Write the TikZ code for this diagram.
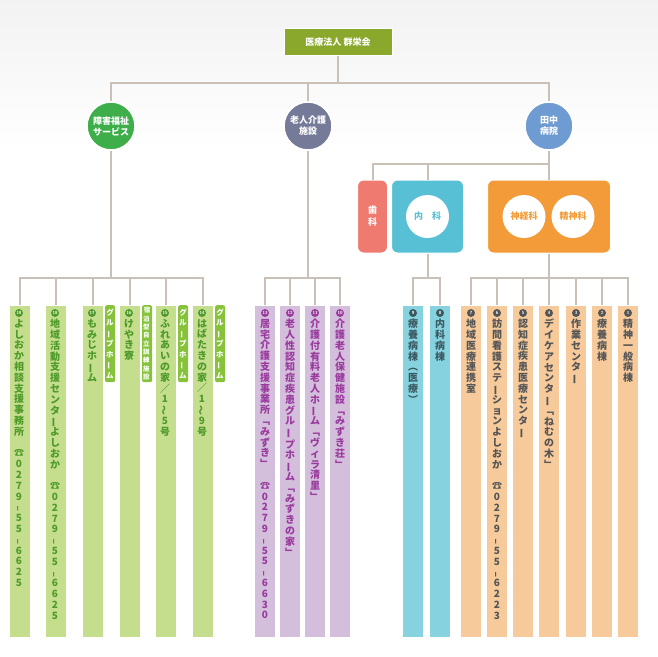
\documentclass[tikz,border=0pt]{standalone}
\usepackage{fontspec}
\usetikzlibrary{positioning,calc}
\newfontfamily\jp{Noto Sans CJK JP}
\definecolor{linec}{HTML}{C9C0B8}
\definecolor{topgreen}{HTML}{8AA92C}
\definecolor{gcol}{HTML}{C5DE8E}
\definecolor{gtext}{HTML}{4E9A2A}
\definecolor{gtab}{HTML}{86C23A}
\definecolor{pcol}{HTML}{D3BEDB}
\definecolor{ptext}{HTML}{9A3A9E}
\definecolor{bcol}{HTML}{87D2DF}
\definecolor{btext}{HTML}{3A5A62}
\definecolor{ocol}{HTML}{F7CA9B}
\definecolor{otext}{HTML}{555555}
\definecolor{shogaic}{HTML}{3DAE4A}
\definecolor{rojinc}{HTML}{747A98}
\definecolor{tanakac}{HTML}{6E9BD1}
\definecolor{shikac}{HTML}{EE7A70}
\definecolor{naikac}{HTML}{58C0D5}
\definecolor{seishinc}{HTML}{F29B38}
% vertical stacking of characters
\def\vt#1{\vtloop#1\relax}
\def\vtloop#1{\ifx\relax#1\else\hbox to 1em{\hss#1\hss}\par\expandafter\vtloop\fi}
\def\vtx#1{\expandafter\vt\expandafter{#1}}
\def\vgap{}
\def\vtilde{\rotatebox[origin=c]{90}{～}}
\def\vbar{\rotatebox[origin=c]{90}{ー}}
\def\vdash{\rotatebox[origin=c]{90}{–}}
\tikzset{
  conn/.style={draw=linec, line width=2pt},
  head/.style={circle, draw=white, line width=1.5pt, minimum width=48pt, minimum height=47pt, inner sep=0pt,
    text=white, font=\jp\bfseries\fontsize{9}{11}\selectfont, align=center},
  dept/.style={rectangle, rounded corners=6pt, draw=white, line width=1pt, minimum height=73pt, inner sep=0pt},
  inner/.style={circle, fill=white, minimum width=43pt, minimum height=43pt, inner sep=0pt, font=\jp\bfseries\fontsize{9}{11}\selectfont},
  col/.style={rectangle, draw=white, line width=0.8pt, minimum width=21pt, minimum height=332pt, anchor=north, inner sep=0pt},
  vtext/.style={anchor=north, inner sep=0pt, text width=10pt, align=center, font=\jp\bfseries\fontsize{10}{10.8}\selectfont},
  num/.style={circle, minimum size=8pt, inner sep=0pt, text=white, font=\sffamily\bfseries\fontsize{4.5}{5}\selectfont},
  tab/.style={rectangle, rounded corners=2pt, fill=gtab, minimum width=10pt, minimum height=77pt, anchor=north west, inner sep=0pt},
  tabtext/.style={inner sep=0pt, text width=8pt, align=center, text=white}
}
\begin{document}
\begin{tikzpicture}[x=1pt, y=-1pt]
\useasboundingbox (0,0) rectangle (658,656);
\shade[top color=gray!10, bottom color=white] (0,0) rectangle (658,150);
% Nodes
\node[rectangle, fill=topgreen, draw=white, line width=1pt, minimum width=108pt, minimum height=27pt,
  text=white, font=\jp\bfseries\fontsize{9}{11}\selectfont] (top) at (338,42) {医療法人 群栄会};
\node[head, fill=shogaic] (shogai) at (111,126) {障害福祉\\サービス};
\node[head, fill=rojinc] (rojin) at (308,126) {老人介護\\施設};
\node[head, fill=tanakac] (tanaka) at (549,126) {田中\\病院};
\node[dept, fill=shikac, minimum width=30pt, text=white, align=center,
  font=\jp\bfseries\fontsize{9}{12}\selectfont] (shika) at (372.5,216.5) {歯\\科};
\node[dept, fill=naikac, minimum width=72pt] (naika) at (427.5,216.5) {};
\node[inner, text=naikac] (naikain) at (427.5,216.5) {内\hspace{1em}科};
\node[dept, fill=seishinc, minimum width=123pt] (seishin) at (549,216.5) {};
\node[inner, text=seishinc] (shinkei) at (524,216.5) {神経科};
\node[inner, text=seishinc] (seishinin) at (573,216.5) {精神科};
% Columns
\foreach \x/\n/\t in {20/19/{よしおか相談支援事務所\vgap☎0279\vdash55\vdash6625},
    56/18/{地域活動支援センタ\vbar よしおか\vgap☎0279\vdash55\vdash6625},
    93/17/{もみじホ\vbar ム}, 130/16/{けやき寮},
    166/15/{ふれあいの家／1\vtilde5号}, 203/14/{はばたきの家／1\vtilde9号}}{
  \node[col, fill=gcol] (c\n) at (\x,305) {};
  \node[num, fill=gtext] at (\x-1,313) {\n};
  \node[vtext, text=gtext] at (\x-1,319) {\vtx\t};
}
\foreach \x/\n/\t in {265/13/{居宅介護支援事業所﹁みずき﹂\vgap☎0279\vdash55\vdash6630},
    290/12/{老人性認知症疾患グル\vbar プホ\vbar ム﹁みずきの家﹂},
    315/11/{介護付有料老人ホ\vbar ム﹁ヴィラ清里﹂},
    340/10/{介護老人保健施設﹁みずき荘﹂}}{
  \node[col, fill=pcol] (c\n) at (\x,305) {};
  \node[num, fill=ptext] at (\x,313) {\n};
  \node[vtext, text=ptext] at (\x,319) {\vtx\t};
}
\foreach \x/\n/\t in {413/9/{療養病棟︵医療︶}, 440/8/{内科病棟}}{
  \node[col, fill=bcol] (c\n) at (\x,305) {};
  \node[num, fill=btext] at (\x,313) {\n};
  \node[vtext, text=btext] at (\x,319) {\vtx\t};
}
\foreach \x/\n/\t in {471/7/{地域医療連携室},
    497/6/{訪問看護ステ\vbar ションよしおか\vgap☎0279\vdash55\vdash6223},
    523/5/{認知症疾患医療センタ\vbar}, 549/4/{デイケアセンタ\vbar﹁ねむの木﹂},
    576/3/{作業センタ\vbar}, 602/2/{療養病棟}, 628/1/{精神一般病棟}}{
  \node[col, fill=ocol] (c\n) at (\x,305) {};
  \node[num, fill=otext] at (\x,313) {\n};
  \node[vtext, text=otext] at (\x,319) {\vtx\t};
}
% Tabs
\foreach \n in {17,15,14}{
  \node[tab] (t\n) at ([xshift=1pt]c\n.north east) {};
  \node[tabtext, font=\jp\bfseries\fontsize{7.5}{10.5}\selectfont] at (t\n) {\vt{グル\vbar プホ\vbar ム}};
}
\node[tab] (t16) at ([xshift=1pt]c16.north east) {};
\node[tabtext, font=\jp\bfseries\fontsize{6.5}{8.3}\selectfont] at (t16) {\vt{宿泊型自立訓練施設}};
% Connections
\coordinate (bar1) at (338,83);
\coordinate (bar2) at (549,164);
\coordinate (bar3) at (0,278);
\draw[conn] (top.south) -- (bar1);
\draw[conn] (shogai.north) |- (bar1) -| (tanaka.north);
\draw[conn] (rojin.north) -- (rojin.north|-bar1);
\draw[conn] (tanaka.south) -- (seishin.north);
\draw[conn] (shika.north) |- (bar2);
\draw[conn] (naika.north) -- (naika.north|-bar2);
\draw[conn] (shogai.south) -- (shogai.south|-bar3);
\draw[conn] (rojin.south) -- (rojin.south|-bar3);
\draw[conn] (naika.south) -- (naika.south|-bar3);
\draw[conn] (seishin.south) -- (seishin.south|-bar3);
\draw[conn] (c19.north) |- (c19.north|-bar3) -| (c14.north);
\draw[conn] (c13.north) |- (c13.north|-bar3) -| (c10.north);
\draw[conn] (c9.north) |- (c9.north|-bar3) -| (c8.north);
\draw[conn] (c7.north) |- (c7.north|-bar3) -| (c1.north);
\foreach \n in {18,17,16,15,12,11,6,5,4,3,2}
  \draw[conn] (c\n.north) -- (c\n.north|-bar3);
\end{tikzpicture}
\end{document}
